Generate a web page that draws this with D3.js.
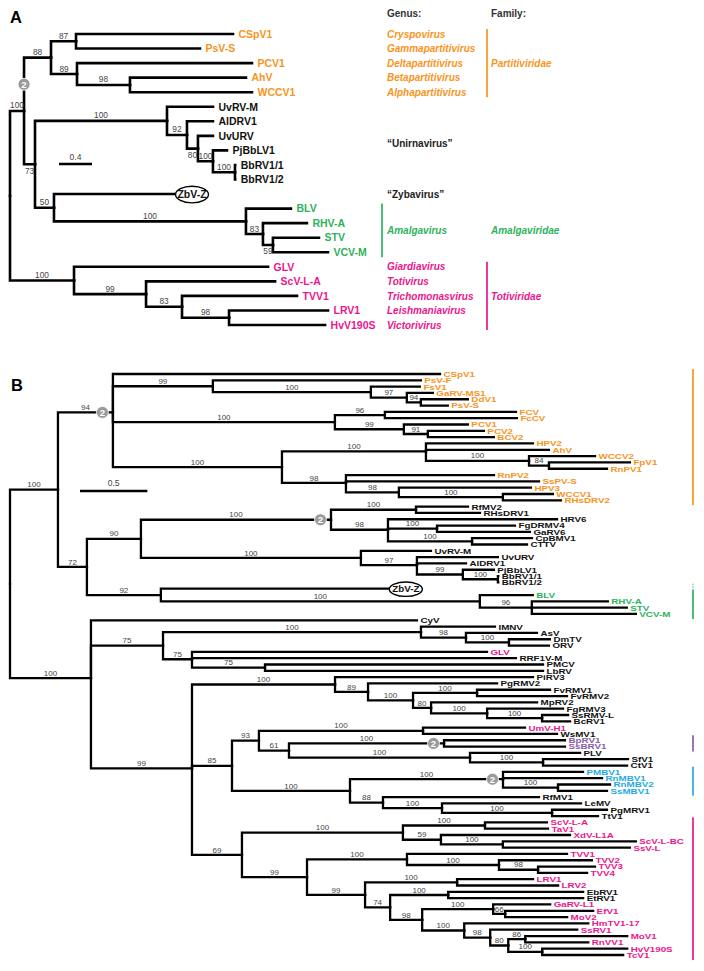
<!DOCTYPE html>
<html><head><meta charset="utf-8">
<script src="https://cdn.jsdelivr.net/npm/d3@7"></script>
<style>
body{margin:0;background:#fff}
svg{display:block}
text{font-family:"Liberation Sans",Arial,Helvetica,sans-serif}
</style>
</head><body>
<svg id="chart" width="704" height="971"></svg>
<script>
// ---------------- DATA ----------------
// Newick trees: branch lengths in substitutions/site, internal labels = bootstrap support
const treeA = "((((CSpV1:1.903,PsV-S:1.503)87:0.303,(PCV1:2.121,(AhV:1.406,WCCV1:1.479)98:0.642)89:0.315)88:0.327,((UvRV-M:0.558,(AlDRV1:0.315,(UvURV:0.182,(PjBbLV1:0.170,(BbRV1/1:0.003,BbRV1/2:0.003)100:0.267)100:0.182)80:0.133)92:0.242)100:1.6,(ZbV-Z:1.455,(BLV:0.545,(RHV-A:0.533,(STV:0.558,VCV-M:0.667)59:0.121)83:0.206)100:2.327)50:0.230)73:0.133)100:0.170,(GLV:2.352,(ScV-L-A:1.564,(TVV1:1.394,(LRV1:1.2,HvV190S:1.164)98:0.570)83:0.436)99:0.873)100:0.776);";

const treeB = "(((CSpV1:2.428,(PsV-F:1.544,(FsV1:0.364,(GaRV-MS1:0.193,(DdV1:0.349,PsV-S:0.200)94:0.104)97:0.267)100:1.173)99:0.742,((FCV:0.973,FcCV:0.980)96:0.371,(PCV1:0.475,(PCV2:0.416,BCV2:0.490)91:0.178)99:0.512)100:1.648,((HPV2:0.794,AhV:0.913,(WCCV2:0.490,(FpV1:0.601,RnPV1:0.431)84:0.148)100:0.765)100:1.069,(RnPV2:1.099,SsPV-S:1.433,(HPV3:0.980,(WCCV1:0.371,RHsDRV2:0.431)100:0.772)98:0.393)98:0.475)100:1.255)94:0.408,"
 + "((((RfMV2:0.386,RHsDRV1:0.475)100:0.631,(HRV6:1.255,(FgDRMV4:0.579,GaRV6:0.690)100:0.364,(CpBMV1:0.445,CTTV:0.408)100:0.624)98:0.423)100:1.411,(UvRV-M:0.520,(UvURV:0.601,AlDRV1:0.364,(PjBbLV1:0.230,(BbRV1/1:0.003,BbRV1/2:0.003)100:0.260)99:0.341)97:0.416)100:1.633)90:0.401,(ZbV-Z:1.685,(BLV:0.393,(RHV-A:0.564,STV:0.705,VCV-M:0.772)96:0.386)100:2.368)92:0.549)72:0.215)100:0.356,"
 + "(CyV:2.420,((IMNV:0.549,(AsV:0.527,(DmTV:0.304,ORV:0.297)100:0.319)98:0.334)100:1.915,(GLV:2.190,RRF1V-M:2.405,(PMCV:2.064,LbRV:2.064)75:0.542)75:0.215)75:0.535,"
 + "((PiRV3:1.470,(PgRMV2:0.958,((FvRMV1:0.542,FvRMV2:0.668)100:0.475,(MpRV2:0.787,(FgRMV3:0.564,(SsRMV-L:0.193,BcRV1:0.208)100:0.408)100:0.416)80:0.134)100:0.334)89:0.245)100:1.062,"
 + "(((UmV-H1:0.757,WsMV1:0.995)100:1.218,((BpRV1:0.898,SsBRV1:0.898)100:1.151,(PLV:0.817,(SfV1:0.631,CtV1:0.624)100:0.542)100:1.344)61:0.223)93:0.200,((PMBV1:0.594,RnMBV1:0.735,(RnMBV2:0.386,SsMBV1:0.364)100:0.408)100:1.136,(RfMV1:1.158,(LeMV:1.032,(PgMRV1:0.408,TtV1:0.341)100:0.817)100:0.438)88:0.245)100:0.876)85:0.297,"
 + "(((ScV-L-A:0.460,TaV1:0.468)100:0.609,(XdV-L1A:0.958,(ScV-L-BC:0.987,SsV-L:0.943)100:0.460)59:0.282)100:1.195,((TVV1:1.188,(TVV2:0.690,(TVV3:0.423,TVV4:0.364)98:0.290)100:0.683)100:0.742,((LRV1:0.564,LRV2:0.750)100:0.683,((EbRV1:1.002,EtRV1:1.002)100:0.431,((GaRV-L1:0.423,(EfV1:0.653,MoV2:0.460)66:0.089)100:0.527,(HmTV1-17:0.921,(SsRV1:0.646,((MoV1:0.757,RnVV1:0.468)86:0.126,(HvV190S:0.631,TcV1:0.601)100:0.252)80:0.134)98:0.193)100:0.312)98:0.238)74:0.186)99:0.431)99:0.483)69:0.371)99:0.750)100:0.601);";

// leaf colour groups
const orangeA = ["CSpV1","PsV-S","PCV1","AhV","WCCV1"];
const greenA  = ["BLV","RHV-A","STV","VCV-M"];
const pinkA   = ["GLV","ScV-L-A","TVV1","LRV1","HvV190S"];

const orangeB = ["CSpV1","PsV-F","FsV1","GaRV-MS1","DdV1","PsV-S","FCV","FcCV","PCV1","PCV2","BCV2","HPV2","AhV","WCCV2","FpV1","RnPV1","RnPV2","SsPV-S","HPV3","WCCV1","RHsDRV2"];
const greenB  = ["BLV","RHV-A","STV","VCV-M"];
const pinkB   = ["GLV","UmV-H1","ScV-L-A","TaV1","XdV-L1A","ScV-L-BC","SsV-L","TVV1","TVV2","TVV3","TVV4","LRV1","LRV2","GaRV-L1","EfV1","MoV2","HmTV1-17","SsRV1","MoV1","RnVV1","HvV190S","TcV1"];
const purpleB = ["BpRV1","SsBRV1"];
const blueB   = ["PMBV1","RnMBV1","RnMBV2","SsMBV1"];

// genus / family annotation of panel A
const genusNames  = ["Cryspovirus","Gammapartitivirus","Deltapartitivirus","Betapartitivirus","Alphapartitivirus","\u201CUnirnavirus\u201D","\u201CZybavirus\u201D","Amalgavirus","Giardiavirus","Totivirus","Trichomonasvirus","Leishmaniavirus","Victorivirus"];
const genusLeaves = [["CSpV1"],["PsV-S"],["PCV1"],["AhV"],["WCCV1"],["UvRV-M","BbRV1/2"],["ZbV-Z"],["BLV","VCV-M"],["GLV"],["ScV-L-A"],["TVV1"],["LRV1"],["HvV190S"]];
const familyNames  = ["Partitiviridae","Amalgaviridae","Totiviridae"];
const familyLeaves = [["CSpV1","WCCV1"],["BLV","VCV-M"],["GLV","HvV190S"]];

// clade bars
const barsA = [["CSpV1","WCCV1"],["BLV","VCV-M"],["GLV","HvV190S"]];
const barsB = [["CSpV1","RHsDRV2"],["BLV","VCV-M"],["BpRV1","SsBRV1"],["PMBV1","SsMBV1"],["ScV-L-A","TcV1"]];

// nodes marked with "2", label positions below branch
const markerA = [["CSpV1","WCCV1"]];
const markerB = [["CSpV1","RHsDRV2"],["RfMV2","CTTV"],["BpRV1","SsBRV1"],["PMBV1","SsMBV1"]];
const belowA  = [["UvRV-M","VCV-M"],["UvURV","BbRV1/2"],["STV","VCV-M"]];

const scaleA = 0.4, scaleB = 0.5;

// ---------------- STYLE ----------------
const C = {orange:"#F7941D", green:"#2DB35C", pink:"#EC168C", purple:"#8B5CA8", blue:"#27AAE1", black:"#111", gray:"#444"};
const barColorsA = [C.orange, C.green, C.pink];
const barColorsB = [C.orange, C.green, C.purple, C.blue, C.pink];

// ---------------- HELPERS ----------------
function parseNewick(s){
  let i = 0;
  function node(){
    const n = {};
    const kids = [];
    if (s[i] === "("){
      i++; kids.push(node());
      while (s[i] === ","){ i++; kids.push(node()); }
      i++;
    }
    let name = "";
    while (i < s.length && !"(),:;".includes(s[i])) name += s[i++];
    let len = 0;
    if (s[i] === ":"){ i++; let t = ""; while (i < s.length && !"(),;".includes(s[i])) t += s[i++]; len = +t; }
    if (kids.length){ n.children = kids; n.support = name; } else n.name = name;
    n.length = len;
    return n;
  }
  return node();
}

function layout(str, x0, pxPerUnit, y0, step){
  const root = d3.hierarchy(parseNewick(str));
  const x = d3.scaleLinear().domain([0, 1]).range([x0, x0 + pxPerUnit]);
  root.eachBefore(n => { n.len = n.parent ? n.parent.len + n.data.length : 0; n.x = x(n.len); });
  const leaves = root.leaves();
  const y = d3.scaleLinear().domain([0, leaves.length - 1]).range([y0, y0 + step * (leaves.length - 1)]);
  leaves.forEach((l, k) => l.y = y(k));
  root.eachAfter(n => { if (n.children) n.y = d3.mean(n.children, c => c.y); });
  const byName = new Map(leaves.map(l => [l.data.name, l]));
  return {root, x, y, leaves, byName};
}

function mrca(T, a, b){
  const na = T.byName.get(a), nb = T.byName.get(b);
  const anc = new Set(na.ancestors());
  return nb.ancestors().find(n => anc.has(n));
}

const svg = d3.select("#chart");

function drawTree(T, opt){
  const g = svg.append("g");
  const links = T.root.descendants().filter(n => n.parent);
  g.selectAll("path.br").data(links).join("path")
    .attr("d", n => `M${n.parent.x},${n.parent.y}V${n.y}H${n.x}`)
    .attr("fill", "none").attr("stroke", "#000")
    .attr("stroke-width", opt.sw).attr("stroke-linejoin", "miter").attr("stroke-linecap", "square");

  const below = new Set((opt.below || []).map(p => mrca(T, p[0], p[1])));
  g.selectAll("text.sup").data(links.filter(n => n.children && n.data.support)).join("text")
    .attr("x", n => (n.parent.x + n.x) / 2)
    .attr("y", n => below.has(n) ? n.y + opt.supSize + 1 : n.y - opt.sw / 2 - 1.2)
    .attr("text-anchor", "middle").attr("font-size", opt.supSize).attr("fill", C.gray)
    .text(n => n.data.support);

  const colorOf = name => opt.groups.find(gr => gr[0].includes(name))?.[1] || C.black;
  T.leaves.forEach(l => {
    const name = l.data.name;
    if (name === "ZbV-Z"){
      const rx = 16.5, ry = opt.ellRy, cx = l.x + rx + 1.5;
      g.append("ellipse").attr("cx", cx).attr("cy", l.y + 0.5).attr("rx", rx).attr("ry", ry)
        .attr("fill", "#fff").attr("stroke", "#000").attr("stroke-width", 1.4);
      g.append("text").attr("x", cx).attr("y", l.y).attr("dy", "0.36em").attr("text-anchor", "middle")
        .attr("font-size", opt.leafSize).attr("font-weight", "bold").attr("fill", C.black).text(name);
    } else {
      g.append("text")
        .attr("transform", `translate(${l.x + opt.gap},${l.y}) scale(1,${opt.squeeze})`)
        .attr("dy", "0.36em")
        .attr("font-size", opt.leafSize).attr("font-weight", "bold").attr("fill", colorOf(name)).text(name);
    }
  });
  return g;
}

function marker(x, y, r){
  svg.append("circle").attr("cx", x).attr("cy", y).attr("r", r).attr("fill", "#9a9a9a").attr("stroke", "#fff").attr("stroke-width", 0.8);
  svg.append("text").attr("x", x).attr("y", y).attr("dy", "0.36em").attr("text-anchor", "middle")
    .attr("font-size", r * 1.6).attr("font-weight", "bold").attr("fill", "#fff").text("2");
}

// ---------------- PANEL A ----------------
const TA = layout(treeA, 10, 82.5, 34, 14.55);
drawTree(TA, {sw: 2.6, supSize: 8.3, leafSize: 10.5, gap: 5.5, ellRy: 8.3, squeeze: 1, below: belowA,
  groups: [[orangeA, C.orange], [greenA, C.green], [pinkA, C.pink]]});
markerA.forEach(p => { const n = mrca(TA, p[0], p[1]); marker(n.parent.x, (n.parent.y + n.y) / 2, 6); });

svg.append("text").attr("x", 10).attr("y", 23).attr("font-size", 16.5).attr("font-weight", "bold").text("A");

// scale bar A
{
  const x0 = 59, yb = 164, w = TA.x(scaleA) - TA.x(0);
  svg.append("line").attr("x1", x0).attr("x2", x0 + w).attr("y1", yb).attr("y2", yb).attr("stroke", "#000").attr("stroke-width", 2.4);
  svg.append("text").attr("x", x0 + w / 2).attr("y", yb - 4).attr("text-anchor", "middle").attr("font-size", 8.5).attr("fill", C.gray).text(scaleA);
}

// genus/family columns
const genusX = 387, familyX = 491;
svg.append("text").attr("x", genusX).attr("y", 17).attr("font-size", 10).attr("font-weight", "bold").attr("fill", "#333").text("Genus:");
svg.append("text").attr("x", familyX).attr("y", 17).attr("font-size", 10).attr("font-weight", "bold").attr("fill", "#333").text("Family:");
const leafColorA = name => orangeA.includes(name) ? C.orange : greenA.includes(name) ? C.green : pinkA.includes(name) ? C.pink : "#222";
genusNames.forEach((gname, k) => {
  const ls = genusLeaves[k].map(n => TA.byName.get(n));
  const yy = d3.mean(ls, l => l.y);
  const quoted = gname.startsWith("\u201C");
  svg.append("text").attr("x", genusX).attr("y", yy).attr("dy", "0.36em")
    .attr("font-size", 10).attr("font-weight", "bold").attr("font-style", quoted ? "normal" : "italic")
    .attr("fill", leafColorA(genusLeaves[k][0])).text(gname);
});
familyNames.forEach((f, k) => {
  const a = TA.byName.get(familyLeaves[k][0]), b = TA.byName.get(familyLeaves[k][1]);
  let yy = (a.y + b.y) / 2;
  if (k === 0) yy = TA.byName.get("PCV1").y;
  if (k === 2) yy = TA.byName.get("TVV1").y;
  svg.append("text").attr("x", familyX).attr("y", yy).attr("dy", "0.36em")
    .attr("font-size", 10).attr("font-weight", "bold").attr("font-style", "italic")
    .attr("fill", barColorsA[k]).text(f);
});
const barXA = [487, 382, 487];
barsA.forEach((p, k) => {
  const a = TA.byName.get(p[0]), b = TA.byName.get(p[1]);
  svg.append("line").attr("x1", barXA[k]).attr("x2", barXA[k]).attr("y1", a.y - 5).attr("y2", b.y + 5)
    .attr("stroke", barColorsA[k]).attr("stroke-width", 1.7);
});

// ---------------- PANEL B ----------------
const TB = layout(treeB, 10, 134.7, 374, 6.315);
drawTree(TB, {sw: 2.3, supSize: 8, leafSize: 9.8, gap: 3.5, ellRy: 7.2, squeeze: 0.82,
  groups: [[orangeB, C.orange], [greenB, C.green], [pinkB, C.pink], [purpleB, C.purple], [blueB, C.blue]]});
markerB.forEach(p => { const n = mrca(TB, p[0], p[1]); marker(n.x - 10.5, n.y, 6); });

svg.append("text").attr("x", 11).attr("y", 391).attr("font-size", 16.5).attr("font-weight", "bold").text("B");

{
  const x0 = 80, yb = 491, w = TB.x(scaleB) - TB.x(0);
  svg.append("line").attr("x1", x0).attr("x2", x0 + w).attr("y1", yb).attr("y2", yb).attr("stroke", "#000").attr("stroke-width", 2.4);
  svg.append("text").attr("x", x0 + w / 2).attr("y", yb - 5).attr("text-anchor", "middle").attr("font-size", 8.5).attr("fill", C.gray).text(scaleB);
}

const barXB = 693;
barsB.forEach((p, k) => {
  const a = TB.byName.get(p[0]), b = TB.byName.get(p[1]);
  svg.append("line").attr("x1", barXB).attr("x2", barXB).attr("y1", a.y - 5).attr("y2", b.y + 5)
    .attr("stroke", barColorsB[k]).attr("stroke-width", 1.7);
});
// dotted extension of the green bar towards ZbV-Z
{
  const z = TB.byName.get("ZbV-Z"), b = TB.byName.get("BLV");
  svg.append("line").attr("x1", barXB).attr("x2", barXB).attr("y1", z.y - 5).attr("y2", b.y - 5)
    .attr("stroke", C.green).attr("stroke-width", 1.2).attr("stroke-dasharray", "1,1.5");
}
</script>
</body></html>
